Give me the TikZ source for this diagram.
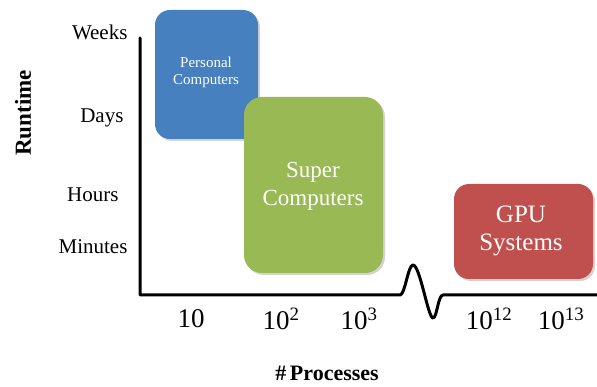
\documentclass[tikz,border=0pt]{standalone}
\usepackage{fontspec}
\setmainfont{Liberation Serif}
\usetikzlibrary{shadows}
\definecolor{pcblue}{RGB}{70,128,190}
\definecolor{scgreen}{RGB}{152,185,84}
\definecolor{gpured}{RGB}{192,80,77}
\tikzset{
  sysbox/.style={rounded corners=15pt,
    drop shadow={opacity=0.35, shadow xshift=2pt, shadow yshift=-2pt}},
  boxtext/.style 2 args={text=white, align=center, font=\rmfamily\fontsize{#1}{#2}\selectfont},
  ylab/.style={anchor=east, font=\fontsize{21}{22}\selectfont},
  xlab/.style={font=\fontsize{27}{28}\selectfont}
}
\begin{document}
\begin{tikzpicture}[x=1pt, y=-1pt, line join=round, line cap=round]
    \useasboundingbox (0,0) rectangle (597,387);
    % boxes
    \fill[pcblue, sysbox] (155,10) rectangle (258,139);
    \node[boxtext={15}{17}] (pc) at (206,72) {Personal\\Computers};
    \fill[scgreen, sysbox, rounded corners=18pt] (244,97) rectangle (383,273);
    \node[boxtext={23}{28}] (sc) at (313,186) {Super\\Computers};
    \fill[gpured, sysbox] (454,184) rectangle (593,279);
    \node[boxtext={25}{28}] (gpu) at (521,231) {GPU\\Systems};
    % axes
    \coordinate (top) at (140,38);
    \coordinate (origin) at (140,295);
    \coordinate (brk) at (400,295);
    \coordinate (end) at (597,295);
    \draw[line width=3pt] (top) -- (origin) -- (brk)
        .. controls (405,295) and (408,265) .. (413,265)
        .. controls (420,265) and (428,318) .. (433,318)
        .. controls (437,318) and (438,295) .. (443,295) -- (end);
    % y labels
    \node[ylab] (weeks) at (131,32) {Weeks};
    \node[ylab] (days) at (127,118) {Days};
    \node[ylab] (hours) at (122,195) {Hours};
    \node[ylab] (minutes) at (131,247) {Minutes};
    \node[rotate=90, font=\fontsize{23}{24}\selectfont\bfseries] (runtime) at (23,113) {Runtime};
    % x labels
    \node[xlab] (x1) at (191,319) {10};
    \node[xlab] (x2) at (281,319) {10\textsuperscript{2}};
    \node[xlab] (x3) at (359,319) {10\textsuperscript{3}};
    \node[xlab] (x12) at (489,319) {10\textsuperscript{12}};
    \node[xlab] (x13) at (561,319) {10\textsuperscript{13}};
    \node[font=\fontsize{22}{24}\selectfont\bfseries] (procs) at (327,373) {\#\,Processes};
\end{tikzpicture}
\end{document}
